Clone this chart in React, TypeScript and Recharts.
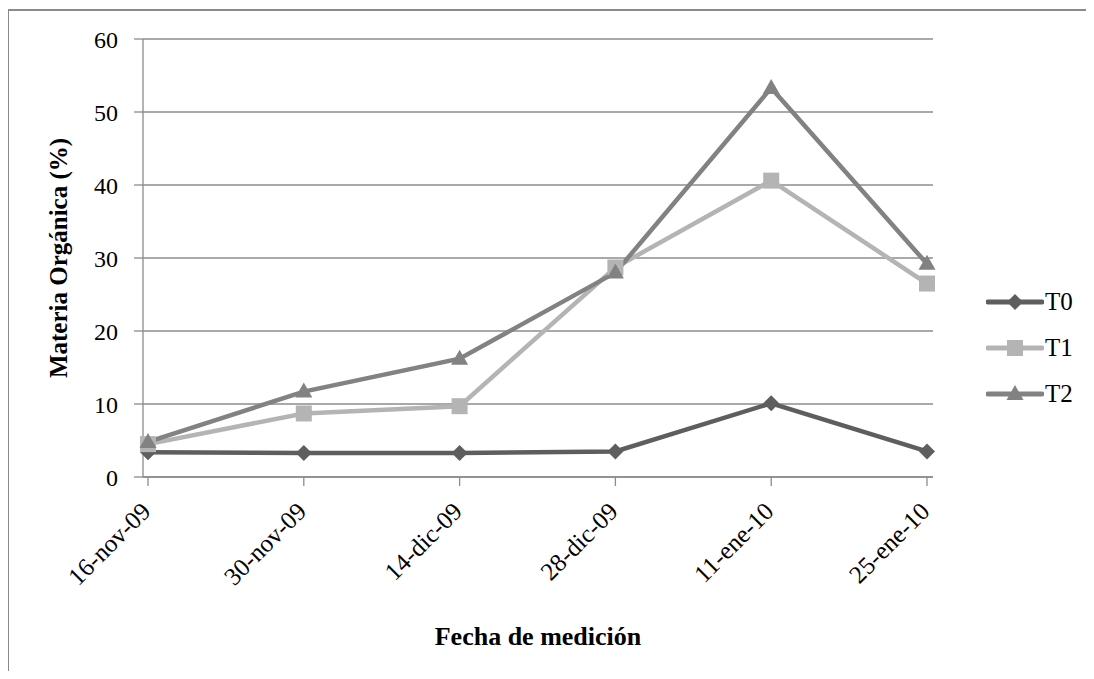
import { CartesianGrid, Legend, Line, LineChart, XAxis, YAxis } from 'recharts'

// Fechas de medición y % de materia orgánica por tratamiento
const fechas = ['16-nov-09', '30-nov-09', '14-dic-09', '28-dic-09', '11-ene-10', '25-ene-10']
const t0 = [3.4, 3.3, 3.3, 3.5, 10.1, 3.5]
const t1 = [4.5, 8.7, 9.7, 28.7, 40.6, 26.5]
const t2 = [4.8, 11.7, 16.2, 28.0, 53.3, 29.2]
const yTicks = [0, 10, 20, 30, 40, 50, 60]

const data = fechas.map((fecha, i) => ({ fecha, T0: t0[i], T1: t1[i], T2: t2[i] }))

const FONT = 'Liberation Serif, Times New Roman, serif'
const GRID = '#8c8c8c'

type Marker = 'diamond' | 'square' | 'triangle'

const series: { key: string; color: string; marker: Marker }[] = [
  { key: 'T0', color: '#5e5e5e', marker: 'diamond' },
  { key: 'T1', color: '#b4b4b4', marker: 'square' },
  { key: 'T2', color: '#828282', marker: 'triangle' },
]

function markerShape(marker: Marker, cx: number, cy: number, color: string, key?: string) {
  if (marker === 'diamond') {
    return <path key={key} d={`M${cx},${cy - 8}L${cx + 8},${cy}L${cx},${cy + 8}L${cx - 8},${cy}Z`} fill={color} />
  }
  if (marker === 'square') {
    return <rect key={key} x={cx - 8} y={cy - 8} width={16} height={16} fill={color} />
  }
  return <path key={key} d={`M${cx},${cy - 9}L${cx + 8.5},${cy + 6}L${cx - 8.5},${cy + 6}Z`} fill={color} />
}

const dotFor = (marker: Marker, color: string) => (props: any) =>
  markerShape(marker, props.cx, props.cy, color, `${marker}-${props.index}`)

const textStyle = { fontFamily: FONT, fill: '#000' }

// etiqueta de fecha girada 45°, anclada por su extremo derecho
const FechaTick = (props: any) => {
  const { x, payload } = props
  const ax = x + 4
  const ay = 513
  return (
    <text
      x={ax}
      y={ay}
      transform={`rotate(-45 ${ax} ${ay})`}
      textAnchor='end'
      fontSize={25}
      style={textStyle}
    >
      {payload.value}
    </text>
  )
}

const TituloX = () => (
  <text x={538} y={645} textAnchor='middle' fontSize={26} fontWeight='bold' style={textStyle}>
    Fecha de medición
  </text>
)

const TituloY = () => (
  <text
    transform='translate(67,258) rotate(-90)'
    textAnchor='middle'
    fontSize={25}
    fontWeight='bold'
    style={textStyle}
  >
    Materia Orgánica (%)
  </text>
)

const Leyenda = () => (
  <div style={{ fontFamily: FONT, fontSize: 25, color: '#000' }}>
    {series.map((s) => (
      <div key={s.key} style={{ display: 'flex', alignItems: 'center', height: 46 }}>
        <svg width={58} height={20} style={{ display: 'block' }}>
          <line x1={2} y1={10} x2={56} y2={10} stroke={s.color} strokeWidth={5} strokeLinecap='round' />
          {markerShape(s.marker, 29, 10, s.color)}
        </svg>
        <span style={{ marginLeft: 1 }}>{s.key}</span>
      </div>
    ))}
  </div>
)

export default function App() {
  return (
    <div style={{ position: 'relative', width: 1094, height: 679, margin: -8, overflow: 'hidden', background: '#fff' }}>
      <div
        style={{
          position: 'absolute',
          left: 7,
          top: 9,
          width: 1200,
          height: 800,
          border: '2px solid #8a8a8a',
        }}
      />
      <LineChart
        width={1094}
        height={679}
        data={data}
        margin={{ top: 39, right: 161, bottom: 0, left: 0 }}
        style={{ position: 'absolute', left: 0, top: 0 }}
      >
        <CartesianGrid vertical={false} stroke={GRID} strokeWidth={1.3} />
        <XAxis
          dataKey='fecha'
          interval={0}
          padding={{ left: 5, right: 6 }}
          stroke={GRID}
          strokeWidth={1.3}
          tickSize={9}
          tick={<FechaTick />}
          label={<TituloX />}
          height={202}
        />
        <YAxis
          domain={[0, 60]}
          ticks={yTicks}
          width={143}
          stroke={GRID}
          strokeWidth={1.3}
          tickSize={9}
          tickMargin={16}
          tick={{ fill: '#000', fontSize: 24, style: { fontFamily: FONT } }}
          label={<TituloY />}
        />
        <Legend
          layout='vertical'
          align='center'
          verticalAlign='middle'
          content={<Leyenda />}
          wrapperStyle={{ left: 986, top: 279, width: 100, height: 140 }}
        />
        {series.map((s) => (
          <Line
            key={s.key}
            dataKey={s.key}
            stroke={s.color}
            strokeWidth={4.5}
            dot={dotFor(s.marker, s.color)}
            activeDot={false}
            isAnimationActive={false}
          />
        ))}
      </LineChart>
    </div>
  )
}
